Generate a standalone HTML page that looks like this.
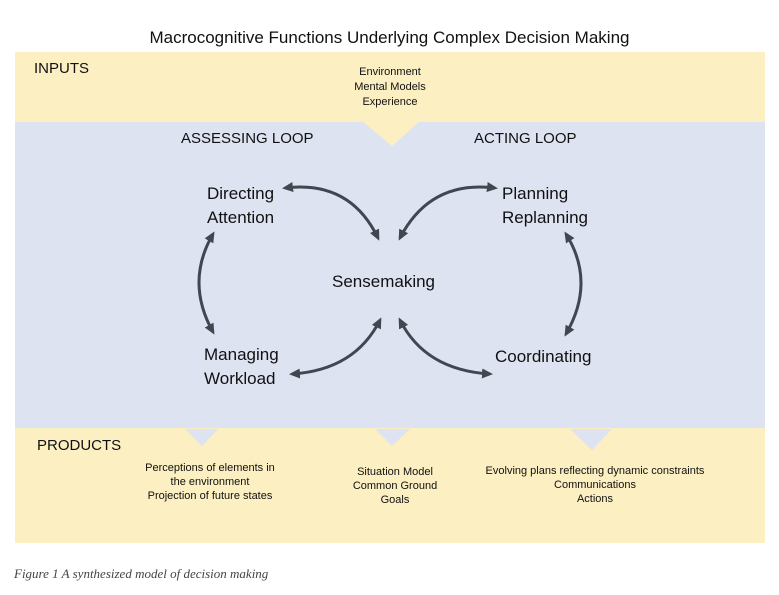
<html><head><style>
body{margin:0;width:779px;height:595px;background:#fff;position:relative;font-family:"Liberation Sans",sans-serif;overflow:hidden}
.t{position:absolute;white-space:nowrap;color:#111}
.c{text-align:center}
</style></head><body>
<svg width="779" height="595" style="position:absolute;left:0;top:0">
<defs><marker id="a" markerWidth="12" markerHeight="12" refX="8" refY="6" orient="auto-start-reverse" markerUnits="userSpaceOnUse"><path d="M0,1 L11,6 L0,11 Z" fill="#3f4850"/></marker></defs>
<rect x="15" y="52" width="750" height="72" fill="#fcefc2"/>
<rect x="15" y="122" width="750" height="308" fill="#dde3f1"/>
<rect x="15" y="428" width="750" height="115" fill="#fcefc2"/>
<polygon points="362,121 420,121 392,146" fill="#fcefc2"/>
<polygon points="185,429 218,429 202,446" fill="#dde3f1"/>
<polygon points="375,429 410,429 392,446" fill="#dde3f1"/>
<polygon points="570,429 612,429 592,450" fill="#dde3f1"/>
<g fill="none" stroke="#3f4850" stroke-width="3" marker-start="url(#a)" marker-end="url(#a)">
<path d="M285,188 Q350,180 378,238"/>
<path d="M213,234 Q185,282 213,332"/>
<path d="M292,374 Q355,370 380,320"/>
<path d="M400,238 Q430,180 495,188"/>
<path d="M566,234 Q596,282 566,334"/>
<path d="M400,320 Q425,370 490,374"/>
</g>
</svg>
<div class="t" style="left:0;width:779px;top:28px;text-align:center;font-size:17px">Macrocognitive Functions Underlying Complex Decision Making</div>
<div class="t" style="left:34px;top:60px;font-size:15px">INPUTS</div>
<div class="t c" style="left:330px;width:120px;top:65px;font-size:11px;line-height:15px">Environment<br>Mental Models<br>Experience</div>
<div class="t" style="left:181px;top:130px;font-size:15px">ASSESSING LOOP</div>
<div class="t" style="left:474px;top:130px;font-size:15px">ACTING LOOP</div>
<div class="t" style="left:207px;top:182px;font-size:17px;line-height:24px">Directing<br>Attention</div>
<div class="t" style="left:502px;top:182px;font-size:17px;line-height:24px">Planning<br>Replanning</div>
<div class="t" style="left:332px;top:272px;font-size:17px">Sensemaking</div>
<div class="t" style="left:204px;top:343px;font-size:17px;line-height:24px">Managing<br>Workload</div>
<div class="t" style="left:495px;top:347px;font-size:17px">Coordinating</div>
<div class="t" style="left:37px;top:437px;font-size:15px">PRODUCTS</div>
<div class="t c" style="left:120px;width:180px;top:461px;font-size:11px;line-height:14px">Perceptions of elements in<br>the environment<br>Projection of future states</div>
<div class="t c" style="left:335px;width:120px;top:465px;font-size:11px;line-height:14px">Situation Model<br>Common Ground<br>Goals</div>
<div class="t c" style="left:460px;width:270px;top:464px;font-size:11px;line-height:14px">Evolving plans reflecting dynamic constraints<br>Communications<br>Actions</div>
<div class="t" style="left:14px;top:566px;font-size:13px;font-style:italic;font-family:'Liberation Serif',serif;color:#444">Figure 1 A synthesized model of decision making</div>
</body></html>
